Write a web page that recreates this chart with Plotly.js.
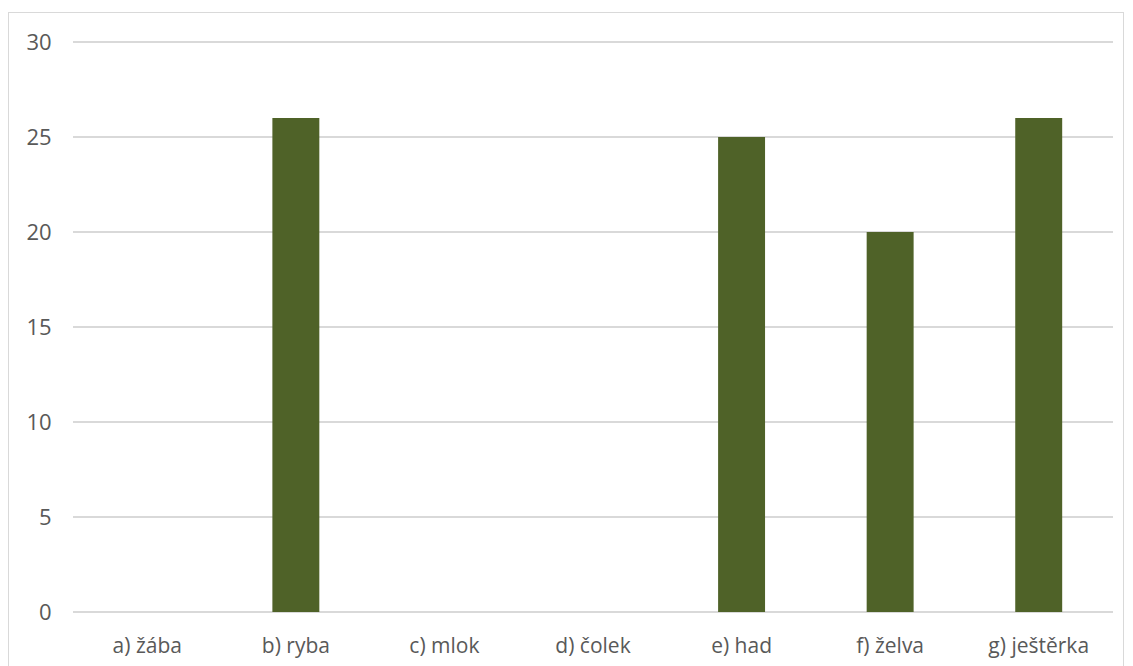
<!DOCTYPE html>
<html><head><meta charset="utf-8">
<script src="https://cdn.plot.ly/plotly-3.0.1.min.js"></script>
<style>
html,body{margin:0;padding:0;background:#fff;}
#frame{position:absolute;left:8px;top:12px;width:1116px;height:700px;border:1px solid #d9d9d9;box-sizing:border-box;}
#chart{position:absolute;left:0;top:0;width:1133px;height:666px;}
</style></head>
<body>
<div id="frame"></div>
<div id="chart"></div>
<script>
const categories = ["a) žába","b) ryba","c) mlok","d) čolek","e) had","f) želva","g) ještěrka"];
const values = [0, 26, 0, 0, 25, 20, 26];
const yTicks = [0,5,10,15,20,25,30];

Plotly.newPlot('chart', [{
  type:'bar', x:categories, y:values,
  marker:{color:'#4F6228', line:{color:'#4F6228', width:0}},
  hoverinfo:'x+y'
}], {
  width:1133, height:666,
  paper_bgcolor:'rgba(0,0,0,0)', plot_bgcolor:'rgba(0,0,0,0)',
  margin:{l:73, r:20, t:41, b:54},
  bargap:0.684,
  showlegend:false,
  font:{family:'Open Sans, Liberation Sans, sans-serif', size:21, color:'#595959'},
  xaxis:{type:'category', showgrid:false, zeroline:false, showline:false,
    ticks:'outside', ticklen:15, tickcolor:'rgba(0,0,0,0)', tickfont:{size:21, color:'#595959'}},
  yaxis:{range:[0,30.06], tickvals:yTicks, showgrid:true, gridcolor:'#d9d9d9', gridwidth:1.5,
    zeroline:true, zerolinecolor:'#d9d9d9', zerolinewidth:1.5, showline:false,
    ticks:'outside', ticklen:16, tickcolor:'rgba(0,0,0,0)', tickfont:{size:22, color:'#595959'}}
}, {displayModeBar:false, staticPlot:true});
</script>
</body></html>
